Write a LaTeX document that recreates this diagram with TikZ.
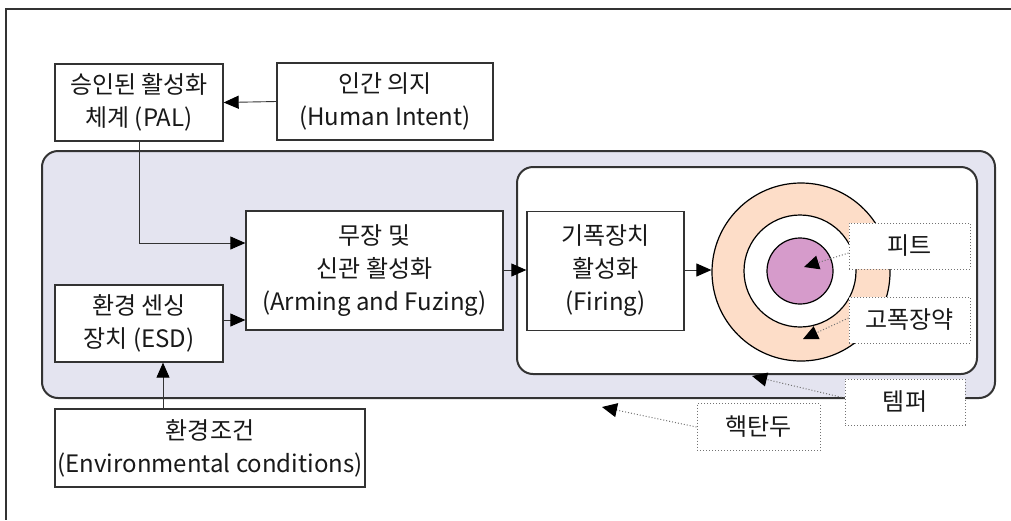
\documentclass[tikz,border=0pt]{standalone}
\usepackage{fontspec}
\setmainfont{Noto Sans CJK KR}
\usetikzlibrary{arrows.meta}
\definecolor{lav}{HTML}{E4E4F0}
\definecolor{peach}{HTML}{FDDDC8}
\definecolor{pitc}{HTML}{D69BCB}
\definecolor{edge}{HTML}{333333}
\tikzset{
  box/.style={draw=edge, line width=1.3pt, fill=white, align=center, inner sep=0pt,
    font=\fontsize{24}{33}\selectfont, text=black!90},
  lbl/.style={draw=black!55, dotted, line width=1pt, fill=white, inner sep=0pt,
    font=\fontsize{24}{33}\selectfont, text=black!90},
  arr/.style={line width=0.9pt, draw=black!80, -{Triangle[length=15pt,width=13pt,fill=black,color=black]}},
  darr/.style={line width=1pt, draw=black!55, dotted, -{Triangle[length=15pt,width=14pt,fill=black,color=black]}},
}
\begin{document}
\begin{tikzpicture}[x=1pt,y=-1pt]
\useasboundingbox (0,0) rectangle (1011,520);
% frame
\draw[edge, line width=2pt] (5,9) -- (1011,9);
\draw[edge, line width=2pt] (6,9) -- (6,520);
% containers
\node[draw=edge, line width=2pt, fill=lav, rounded corners=16pt, minimum width=953pt, minimum height=247pt, inner sep=0pt] (warhead) at (518.5,274.5) {};
\node[draw=edge, line width=2pt, fill=white, rounded corners=16pt, minimum width=460pt, minimum height=207pt, inner sep=0pt] (inner) at (747,270.5) {};
% boxes
\node[box, minimum width=168pt, minimum height=77pt] (pal) at (139,102.5) {승인된 활성화\\체계 (PAL)};
\node[box, minimum width=216pt, minimum height=77pt] (hum) at (385,101.5) {인간 의지\\(Human Intent)};
\node[box, minimum width=257pt, minimum height=119pt] (arm) at (374.5,270.5) {무장 및\\신관 활성화\\(Arming and Fuzing)};
\node[box, minimum width=168pt, minimum height=77pt] (esd) at (139,323.5) {환경 센싱\\장치 (ESD)};
\node[box, minimum width=310pt, minimum height=78pt] (env) at (210,448) {환경조건\\(Environmental conditions)};
\node[box, minimum width=157pt, minimum height=119pt] (fire) at (605.5,271) {기폭장치\\활성화\\(Firing)};
% circles
\node[circle, draw=black, line width=1.2pt, fill=peach, minimum size=178pt, inner sep=0pt] (he) at (801,272) {};
\node[circle, draw=black, line width=1.2pt, fill=white, minimum size=112pt, inner sep=0pt] (gap) at (800,271) {};
\node[circle, draw=black, line width=1.2pt, fill=pitc, minimum size=66pt, inner sep=0pt] (pit) at (800,271) {};
% labels
\node[lbl, minimum width=121pt, minimum height=46pt] (lpit) at (909.5,246) {피트};
\node[lbl, minimum width=121pt, minimum height=46pt] (lhe) at (909.5,320) {고폭장약};
\node[lbl, minimum width=120pt, minimum height=46pt] (ltamp) at (905,402) {템퍼};
\node[lbl, minimum width=123pt, minimum height=47pt] (lwar) at (758.5,427) {핵탄두};
% connector ends
\coordinate (ppit) at (804,267);
\coordinate (phe) at (803,339);
\coordinate (ptamp) at (752,376);
\coordinate (pwar) at (602,407);
\coordinate (bend) at (139,243);
% connectors
\draw[arr] (hum.west) -- (pal.east);
\draw[arr] (pal.south) -- (bend) -- (bend -| arm.west);
\draw[arr] (esd.east |- 0,320) -- (arm.west |- 0,320);
\draw[arr] (env.north -| 163,0) -- (esd.south -| 163,0);
\draw[arr] (arm.east |- 0,270) -- (fire.west |- 0,270);
\draw[arr] (fire.east |- 0,270) -- (he.west |- 0,270);
\draw[darr] (lpit.west |- 0,253) -- (ppit);
\draw[darr] (lhe.west |- 0,318) -- (phe);
\draw[darr] (ltamp.west |- 0,398) -- (ptamp);
\draw[darr] (lwar.west) -- (pwar);
\end{tikzpicture}
\end{document}
